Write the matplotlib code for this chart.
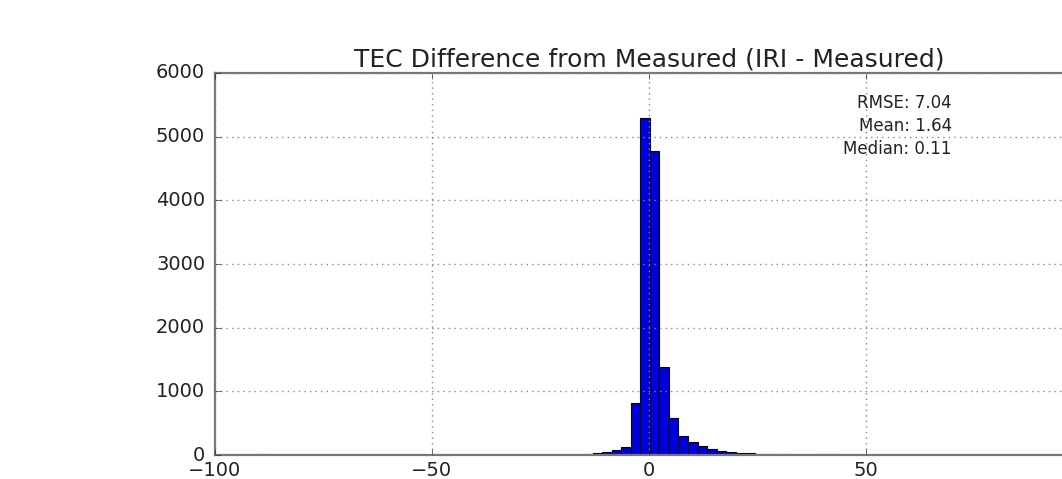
import numpy as np
import matplotlib
matplotlib.use('Agg')
from matplotlib import pyplot as plt

plt.style.use('classic')

# histogram bins are 2.2 wide, starting at -90
binWidth = 2.2
binStart = -90.0
nBins = 100

# counts (bin index -> count), everything else is empty
binIndex = [0, 33, 34, 35, 36, 37, 38, 39, 40, 41, 42, 43, 44, 45, 46, 47, 48,
            49, 50, 51, 52, 53, 54, 55, 56, 57, 58, 59, 60, 61]
binCounts = [8, 5, 12, 25, 45, 75, 125, 820, 5300, 4770, 1390, 576, 300, 210,
             140, 95, 70, 50, 35, 25, 18, 14, 10, 8, 6, 4, 9, 10, 8, 3]

statLabels = ['RMSE: 7.04', 'Mean: 1.64', 'Median: 0.11']

edges = binStart + binWidth * np.arange(nBins + 1)
centers = edges[:-1] + binWidth / 2
weights = np.zeros(nBins)
weights[binIndex] = binCounts

fig = plt.figure(figsize=(10.62, 4.79), dpi=100, facecolor='white')
ax = fig.add_axes([0.2024, 0.0501, 0.8173, 0.7975])
ax.set_facecolor('white')
ax.hist(centers, bins=edges, weights=weights, color='#0000dd', edgecolor='black', linewidth=0.8)
ax.set_xlim(-100, 100)
ax.set_ylim(0, 6000)
ax.set_xticks([-100, -50, 0, 50, 100])
ax.set_yticks([0, 1000, 2000, 3000, 4000, 5000, 6000])
ax.grid(True, color='#888888', linestyle=':', linewidth=1.0)
ax.tick_params(labelsize=14, colors='#333333', labelcolor='#222222')
ax.tick_params(axis='y', pad=7)
for s in ax.spines.values():
    s.set_color('#777777')
    s.set_linewidth(1.6)
ax.set_title('TEC Difference from Measured (IRI - Measured)', fontsize=18, color='#222222')
ax.text(0.849, 0.945, '\n'.join(statLabels), transform=ax.transAxes, ha='right', va='top',
        fontsize=12, color='#222222', linespacing=1.35)

fig.savefig('out.png', dpi=100, facecolor='white')
